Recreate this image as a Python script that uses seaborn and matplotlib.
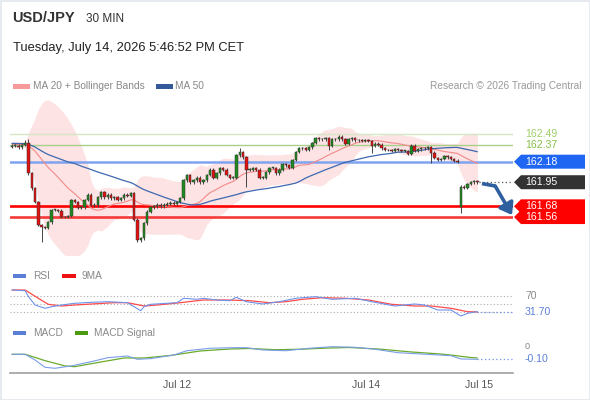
"""USD/JPY 30 min — chandeliers, Bollinger, RSI et MACD."""

import matplotlib

matplotlib.use("Agg")
import matplotlib.pyplot as plt
import numpy as np
import pandas as pd
import seaborn as sns
from matplotlib.patches import Polygon, Rectangle
from matplotlib.transforms import blended_transform_factory

# --- données -------------------------------------------------------------
# clôtures avant la fenêtre (pour amorcer MA 20 / MA 50)
PRE_CLOSES = [162.40, 162.42, 162.41, 162.39, 162.38, 162.40, 162.43, 162.41, 162.40, 162.38,
              162.37, 162.39, 162.41, 162.40, 162.38, 162.36, 162.37, 162.39, 162.40, 162.38,
              162.37, 162.38, 162.36, 162.37, 162.39, 162.38, 162.36, 162.35, 162.37, 162.36]

CLOSES = [162.36, 162.36, 162.34, 162.37, 162.39, 162.05, 161.88, 161.73, 161.47, 161.45,
          161.44, 161.50, 161.64, 161.64, 161.63, 161.56, 161.56, 161.57, 161.75, 161.73,
          161.66, 161.67, 161.75, 161.81, 161.70, 161.69, 161.78, 161.84, 161.78, 161.81,
          161.77, 161.78, 161.75, 161.77, 161.81, 161.80, 161.83, 161.53, 161.30, 161.32,
          161.49, 161.62, 161.67, 161.68, 161.70, 161.68, 161.70, 161.71, 161.72, 161.71,
          161.73, 161.77, 161.97, 162.03, 161.95, 161.97, 162.00, 161.95, 161.97, 162.03,
          162.09, 162.00, 162.05, 162.11, 162.09, 162.03, 162.00, 162.00, 162.25, 162.29,
          162.23, 162.09, 162.09, 162.11, 162.09, 162.00, 162.00, 162.06, 162.11, 162.11,
          162.05, 162.09, 162.15, 162.14, 162.11, 162.20, 162.29, 162.33, 162.33, 162.31,
          162.34, 162.39, 162.44, 162.43, 162.43, 162.44, 162.36, 162.43, 162.43, 162.46,
          162.43, 162.38, 162.43, 162.44, 162.42, 162.42, 162.41, 162.42, 162.41, 162.36,
          162.38, 162.37, 162.33, 162.31, 162.31, 162.30, 162.32, 162.31, 162.30, 162.30,
          162.27, 162.36, 162.30, 162.32, 162.33, 162.33, 162.34, 162.28, 162.22, 162.20,
          162.21, 162.24, 162.23, 162.21, 162.19, 162.18, 161.90, 161.89, 161.93, 161.95,
          161.96, 161.95]
FIRST_OPEN = 162.35
GAP_OPENS = {136: 161.67}
WICK = 0.015
# mèches marquantes : indice -> (plus haut, plus bas)
WICKS = {4: (162.42, None), 5: (162.43, None), 9: (None, 161.28), 38: (None, 161.285),
         69: (162.33, None), 71: (None, 161.90), 96: (None, 162.31), 109: (None, 162.28),
         127: (None, 162.165), 136: (161.92, 161.605)}

LEVELS_GREEN = [162.49, 162.37]
LEVEL_BLUE = 162.18
LEVELS_RED = [161.68, 161.56]
LAST_PRICE = 161.95
PROJ_IDX = [142.4, 146.4, 151.5]
PROJ_PRICE = [161.935, 161.908, 161.583]

RSI_IDX = [0, 4, 5, 7, 10, 12, 15, 19, 24, 29, 35, 37, 39, 40, 42, 47, 50, 52, 56, 58,
           62, 66, 68, 71, 76, 81, 86, 92, 97, 104, 109, 116, 122, 125, 129, 133, 136, 138, 141]
RSI_VAL = [84.7, 83.0, 68.3, 47.9, 39.8, 43.7, 47.9, 52.1, 54.5, 56.0, 53.6, 43.7, 33.9, 43.7,
           49.6, 52.1, 53.6, 64.4, 61.9, 64.4, 60.2, 58.5, 66.8, 56.0, 50.4, 56.0, 64.4, 68.3,
           61.9, 64.4, 56.0, 45.5, 50.4, 47.9, 35.6, 35.6, 20.9, 27.5, 31.7]
RSI_MA_IDX = [0, 4, 8, 11, 15, 19, 31, 35, 40, 44, 51, 58, 65, 72, 78, 83, 88, 94, 101, 108,
              115, 122, 127, 133, 138, 141]
RSI_MA_VAL = [84.7, 84.7, 64.3, 49.6, 45.5, 47.9, 53.6, 53.6, 45.5, 47.9, 53.6, 60.2, 60.2,
              58.5, 53.6, 56.0, 61.9, 65.8, 64.4, 60.2, 49.6, 45.5, 45.5, 39.8, 31.5, 30.8]
RSI_LAST = 31.70

MACD_IDX = [0, 4, 7, 10, 13, 18, 24, 29, 35, 38, 42, 49, 53, 60, 67, 71, 76, 83, 90, 97,
            104, 110, 117, 124, 133, 136, 141]
MACD_VAL = [-0.024, -0.024, -0.111, -0.221, -0.236, -0.200, -0.136, -0.076, -0.050, -0.100,
            -0.090, -0.035, 0.030, 0.067, 0.076, 0.076, 0.041, 0.030, 0.067, 0.091, 0.082,
            0.052, 0.000, -0.020, -0.045, -0.095, -0.100]
SIG_IDX = [0, 4, 10, 16, 19, 27, 34, 40, 48, 57, 66, 72, 80, 87, 96, 102, 111, 121, 130,
           134, 139, 141]
SIG_VAL = [-0.024, -0.024, -0.120, -0.200, -0.212, -0.140, -0.080, -0.080, -0.042, 0.026,
           0.056, 0.064, 0.045, 0.052, 0.071, 0.079, 0.056, 0.011, -0.020, -0.042, -0.073,
           -0.080]
MACD_LAST = -0.10

TICK_IDX = [50, 107.3, 141.5]
TICK_LABELS = ["Jul 12", "Jul 14", "Jul 15"]

# --- mise en page (pixels) ------------------------------------------------
W, H = 590, 400
X0, X1 = 10, 513
XLIM = (-0.6, 151.8)
FONT = ["Liberation Sans", "DejaVu Sans"]

C_GREEN = "#1f8a1f"
C_RED = "#e31010"
C_BAND = "#fde3e3"
C_MA20 = "#f28a8a"
C_MA50 = "#3d68b0"


def fx(px):
    return px / W


def fy(py):
    return 1 - py / H


def add_axes(top, bottom):
    return fig.add_axes([fx(X0), fy(bottom), fx(X1 - X0), (bottom - top) / H])


def swatch(x, y, w, h, color):
    fig.add_artist(Rectangle((fx(x), fy(y + h / 2)), w / W, h / H, color=color,
                             transform=fig.transFigure, lw=0))


def tag(ax, price, text, face, half_px=7):
    ymin, ymax = ax.get_ylim()
    h = half_px * (ymax - ymin) / (ax.bbox.height / fig.dpi * 100)
    tr = blended_transform_factory(ax.transAxes, ax.transData)
    ax_x = lambda px: (px - X0) / (X1 - X0)
    pts = [(ax_x(514), price), (ax_x(521), price + h), (ax_x(585), price + h),
           (ax_x(585), price - h), (ax_x(521), price - h)]
    ax.add_patch(Polygon(pts, closed=True, facecolor=face, edgecolor="none",
                         transform=tr, clip_on=False, zorder=6))
    ax.text(ax_x(525), price, text, transform=tr, color="white", fontsize=7.6,
            va="center", ha="left", family=FONT, zorder=7, clip_on=False)


sns.set_theme(style="white")
plt.rcParams["font.family"] = FONT

fig = plt.figure(figsize=(W / 100, H / 100), dpi=100)
fig.patch.set_facecolor("white")
fig.add_artist(Rectangle((0.5 / W, 0.5 / H), 1 - 1 / W, 1 - 1 / H, fill=False,
                         edgecolor="#e3e8ee", lw=1.2, transform=fig.transFigure))

# --- en-tête ---------------------------------------------------------------
fig.text(fx(12), fy(18.5), "USD/JPY", fontsize=10.5, weight="bold", color="#333333", va="center")
fig.text(fx(86), fy(18.5), "30 MIN", fontsize=8.5, color="#333333", va="center")
fig.text(fx(13), fy(48.5), "Tuesday, July 14, 2026 5:46:52 PM CET", fontsize=9.3,
         color="#222222", va="center")
swatch(13, 86, 17, 5, "#f79a9a")
fig.text(fx(33), fy(86), "MA 20 + Bollinger Bands", fontsize=7.3, color="#888888", va="center")
swatch(156, 86, 17, 5, "#34599a")
fig.text(fx(175.5), fy(86), "MA 50", fontsize=7.3, color="#888888", va="center")
fig.text(fx(581), fy(86), "Research © 2026 Trading Central", fontsize=7.3, color="#999999",
         va="center", ha="right")

# --- prix ------------------------------------------------------------------
closes = pd.Series(CLOSES)
idx = np.arange(len(CLOSES))
opens = pd.Series([FIRST_OPEN] + CLOSES[:-1])
for k, v in GAP_OPENS.items():
    opens[k] = v
highs = np.maximum(opens, closes) + WICK
lows = np.minimum(opens, closes) - WICK
for k, (hi, lo) in WICKS.items():
    if hi is not None:
        highs[k] = hi
    if lo is not None:
        lows[k] = lo

full = pd.Series(PRE_CLOSES + CLOSES)
n_pre = len(PRE_CLOSES)
ma20 = full.rolling(20, min_periods=1).mean().iloc[n_pre:].to_numpy()
sd20 = full.rolling(20, min_periods=2).std().iloc[n_pre:].to_numpy()
ma50 = full.rolling(50, min_periods=1).mean().iloc[n_pre:].to_numpy()

ax = add_axes(95, 255)
ax.set_xlim(*XLIM)
ax.set_ylim(162.49 - 121 / 89.3, 162.49 + 39 / 89.3)
ax.axis("off")

ax.fill_between(idx, ma20 - 2 * sd20, ma20 + 2 * sd20, color=C_BAND, lw=0, zorder=1)
sns.lineplot(x=idx, y=ma20, ax=ax, color=C_MA20, lw=0.8, zorder=3)
sns.lineplot(x=idx, y=ma50, ax=ax, color=C_MA50, lw=0.9, zorder=3)

ax.axhline(LEVELS_GREEN[0], color="#d3e7c4", lw=1.0, zorder=2)
ax.axhline(LEVELS_GREEN[1], color="#a9d08a", lw=1.0, zorder=2)
ax.axhline(LEVEL_BLUE, color="#7fa3f0", lw=1.8, zorder=2)
ax.axhline(LEVELS_RED[0], color="#ff0000", lw=1.9, zorder=2)
ax.axhline(LEVELS_RED[1], color="#f53a3a", lw=1.9, zorder=2)

up = closes >= opens
body_lo = np.minimum(opens, closes)
body_h = np.maximum((closes - opens).abs(), 0.006)
ax.vlines(idx, lows, highs, color="#444444", lw=0.7, zorder=4)
ax.bar(idx, body_h, bottom=body_lo, width=0.72,
       color=np.where(up, C_GREEN, C_RED), edgecolor="#333333", lw=0.35, zorder=5)

ax.plot([idx[-1] + 0.6, XLIM[1]], [LAST_PRICE, LAST_PRICE], ls=(0, (1, 2)), color="#555555",
        lw=0.9, zorder=4)
ax.plot(PROJ_IDX[:2], PROJ_PRICE[:2], color="#2f5f9e", lw=2.6, solid_capstyle="butt", zorder=6)
ax.annotate("", xy=(PROJ_IDX[2], PROJ_PRICE[2]), xytext=(PROJ_IDX[1], PROJ_PRICE[1]),
            arrowprops=dict(arrowstyle="-|>,head_length=0.55,head_width=0.4", lw=2.6,
                            color="#2f5f9e", shrinkA=0, shrinkB=0), zorder=6)

tr_lbl = blended_transform_factory(ax.transAxes, ax.transData)
for p, c in zip(LEVELS_GREEN, ["#9fcf6a", "#86c044"]):
    ax.text((525 - X0) / (X1 - X0), p, f"{p:.2f}", transform=tr_lbl, color=c, fontsize=7.6,
            va="center", ha="left", clip_on=False)
tag(ax, LEVEL_BLUE, f"{LEVEL_BLUE:.2f}", "#1f66f2")
tag(ax, LAST_PRICE, f"{LAST_PRICE:.2f}", "#333333")
for p in LEVELS_RED:
    tag(ax, p, f"{p:.2f}", "#ff0000")

# --- RSI ---------------------------------------------------------------------
swatch(13, 276, 13, 4, "#5b7fd6")
fig.text(fx(33), fy(276), "RSI", fontsize=7.3, color="#888888", va="center")
swatch(62, 276, 14, 4, "#ee1111")
fig.text(fx(82), fy(276), "9MA", fontsize=7.3, color="#888888", va="center")

ax_r = add_axes(286, 320)
ax_r.set_xlim(*XLIM)
ax_r.set_ylim(30 - 7.7 / 0.4075, 70 + 10 / 0.4075)
ax_r.axis("off")
for lv in (70, 50, 30):
    ax_r.axhline(lv, color="#aaaaaa", ls=(0, (1, 2)), lw=0.8, zorder=1)
sns.lineplot(x=RSI_MA_IDX, y=RSI_MA_VAL, ax=ax_r, color="#ff4a4a", lw=0.9, zorder=3)
sns.lineplot(x=RSI_IDX, y=RSI_VAL, ax=ax_r, color="#6f93ea", lw=0.8, zorder=4)
ax_r.plot([RSI_IDX[-1], XLIM[1]], [RSI_LAST, RSI_LAST], ls=(0, (1, 2)), color="#6f93ea", lw=0.9)
tr_r = blended_transform_factory(ax_r.transAxes, ax_r.transData)
xl = (525 - X0) / (X1 - X0)
ax_r.text(xl, 70, "70", transform=tr_r, color="#888888", fontsize=7.4, va="center", clip_on=False)
ax_r.text(xl, RSI_LAST, f"{RSI_LAST:.2f}", transform=tr_r, color="#5b7fd6", fontsize=7.6,
          va="center", clip_on=False)

# --- MACD --------------------------------------------------------------------
swatch(13, 333, 13, 4, "#5b7fd6")
fig.text(fx(33), fy(333), "MACD", fontsize=7.3, color="#888888", va="center")
swatch(75, 333, 13, 4, "#4c9a10")
fig.text(fx(94), fy(333), "MACD Signal", fontsize=7.3, color="#888888", va="center")

ax_m = add_axes(340, 373)
ax_m.set_xlim(*XLIM)
ax_m.set_ylim(-(373 - 352.7) / 66, (352.7 - 340) / 66)
sns.lineplot(x=SIG_IDX, y=SIG_VAL, ax=ax_m, color="#6aab2c", lw=0.9, zorder=3)
sns.lineplot(x=MACD_IDX, y=MACD_VAL, ax=ax_m, color="#7b9de9", lw=0.8, zorder=4)
ax_m.plot([MACD_IDX[-1], XLIM[1]], [MACD_LAST, MACD_LAST], ls=(0, (1, 2)), color="#6f93ea", lw=0.9)
tr_m = blended_transform_factory(ax_m.transAxes, ax_m.transData)
ax_m.text(xl, 0.025, "0", transform=tr_m, color="#888888", fontsize=6.6, va="bottom",
          clip_on=False)
ax_m.text(xl, MACD_LAST, f"{MACD_LAST:.2f}", transform=tr_m, color="#5b7fd6", fontsize=7.6,
          va="center", clip_on=False)

for s in ("top", "left", "right"):
    ax_m.spines[s].set_visible(False)
ax_m.spines["bottom"].set_color("#a0a0a0")
ax_m.spines["bottom"].set_linewidth(1.2)
ax_m.set_yticks([])
ax_m.set_xticks(TICK_IDX)
ax_m.set_xticklabels(TICK_LABELS)
ax_m.set_xticks(list(XLIM), minor=True)
ax_m.tick_params(axis="x", which="major", length=0, pad=5, labelsize=7.6, labelcolor="#555555")
ax_m.tick_params(axis="x", which="minor", length=6, width=1.2, direction="inout", color="#a0a0a0")
ax_m.set_xlabel("")
ax_m.set_ylabel("")
ax.set_xlabel("")
ax_r.set_xlabel("")

fig.savefig("out.png", dpi=100)
plt.close(fig)
